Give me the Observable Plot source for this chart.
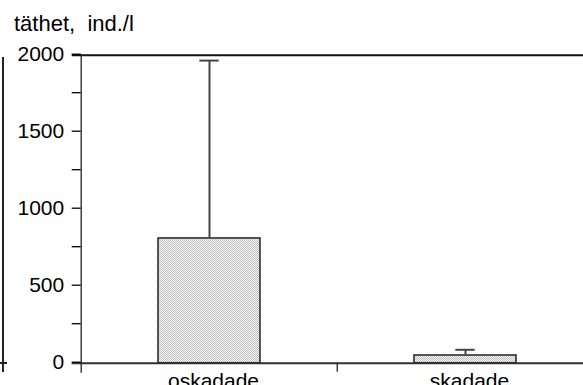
<!DOCTYPE html>
<html>
<head>
<meta charset="utf-8">
<script src="https://cdn.jsdelivr.net/npm/d3@7"></script>
<script src="https://cdn.jsdelivr.net/npm/@observablehq/plot@0.6"></script>
<style>
  html, body { margin: 0; padding: 0; background: #fff; overflow: hidden; }
  #chart { position: relative; width: 583px; height: 385px; }
  #title {
    height: 38px; box-sizing: border-box; padding: 12px 0 0 14px;
    font: 22px/24px "Liberation Sans", Arial, sans-serif; white-space: pre; color: #000;
  }
  .edge { position: absolute; background: #222; }
</style>
</head>
<body>
<div id="chart">
  <div id="title">täthet,  ind./l</div>
  <!-- border of the adjoining panel on the left -->
  <div class="edge" style="left:2px;top:57px;width:1.5px;height:315px"></div>
  <div class="edge" style="left:0;top:362px;width:7px;height:1.5px"></div>
</div>
<script>
// Density (ind./l) for undamaged vs damaged, mean with upper error bar
const categories = ["oskadade", "skadade"];
const means = [810, 50];
const errors = [1155, 37];
const yTicks = [0, 250, 500, 750, 1000, 1250, 1500, 1750, 2000];

const data = categories.map((category, i) => ({
  category,
  mean: means[i],
  upper: means[i] + errors[i]
}));

const width = 583, height = 347;
const marginLeft = 80.7, marginRight = -10.7, marginTop = 16.7, marginBottom = 22.3;
const step = (width - marginLeft - marginRight) / categories.length;
const barWidth = step * 0.4;
const capInset = (barWidth - 20) / 2;
const yMax = yTicks[yTicks.length - 1];

const chart = Plot.plot({
  width, height, marginLeft, marginRight, marginTop, marginBottom,
  style: {
    fontFamily: '"Liberation Sans", Arial, sans-serif',
    fontSize: "21px",
    color: "#000",
    background: "transparent",
    overflow: "hidden"
  },
  x: { domain: categories, paddingInner: 0.6, paddingOuter: 0.3, align: 0.5, label: null },
  y: { domain: [yTicks[0], yMax], label: null },
  marks: [
    Plot.barY(data, { x: "category", y: "mean", fill: "url(#stipple)", stroke: "#222", strokeWidth: 1.5 }),
    Plot.ruleX(data, { x: "category", y1: "mean", y2: "upper", stroke: "#444", strokeWidth: 2 }),
    Plot.tickY(data, { x: "category", y: "upper", stroke: "#444", strokeWidth: 2, insetLeft: capInset, insetRight: capInset }),
    Plot.ruleY([yMax], { stroke: "#111", strokeWidth: 2, insetLeft: -9 }),
    Plot.ruleY([0], { stroke: "#333", strokeWidth: 2, insetLeft: -9 }),
    Plot.frame({ anchor: "left", insetBottom: -9, stroke: "#222", strokeWidth: 1.3 }),
    // separator tick between the category bands
    Plot.ruleX(categories.slice(1), { dx: -step / 2, y1: 0, y2: 0, insetBottom: -9, stroke: "#222", strokeWidth: 1.3 }),
    Plot.axisY({
      ticks: yTicks,
      tickFormat: d => (d % 500 ? "" : String(d)),
      tickSize: 9, tickPadding: 8, dy: -1, strokeWidth: 1.3, label: null
    }),
    Plot.axisX({ tickSize: 0, tickPadding: 10, dx: 4, label: null })
  ]
});

// fine stipple used as the bar fill
const ns = "http://www.w3.org/2000/svg";
const defs = document.createElementNS(ns, "defs");
defs.innerHTML =
  '<pattern id="stipple" width="2" height="2" patternUnits="userSpaceOnUse">' +
  '<rect width="2" height="2" fill="#f4f4f4"/>' +
  '<rect width="1" height="1" fill="#c2c2c2"/>' +
  '<rect x="1" y="1" width="1" height="1" fill="#c2c2c2"/>' +
  '</pattern>';
chart.prepend(defs);

document.getElementById("chart").appendChild(chart);
</script>
</body>
</html>
